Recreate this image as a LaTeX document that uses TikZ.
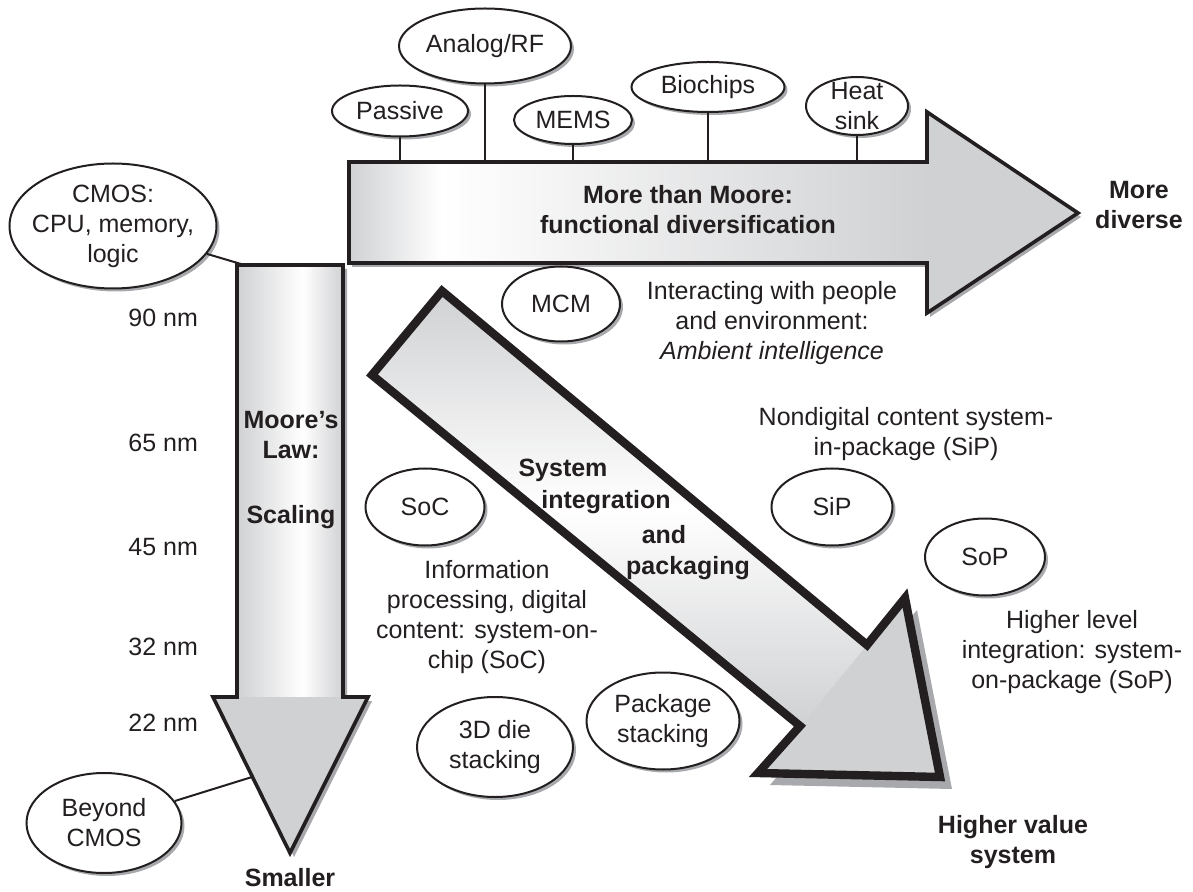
\documentclass[tikz,border=0pt]{standalone}
\usepackage{fontspec}
\setmainfont{Liberation Sans}
\usetikzlibrary{shapes.geometric,shadows}
\definecolor{ink}{RGB}{35,31,32}
\definecolor{arrowgray}{RGB}{208,209,211}
\definecolor{shadowgray}{RGB}{167,169,172}
\pgfdeclarehorizontalshading{mooreshaft}{100bp}{color(0bp)=(arrowgray); color(25bp)=(arrowgray); color(56bp)=(white); color(75bp)=(arrowgray); color(100bp)=(arrowgray)}
\pgfdeclarehorizontalshading{moreshaft}{100bp}{color(0bp)=(arrowgray); color(25bp)=(arrowgray); color(33bp)=(white); color(75bp)=(arrowgray); color(100bp)=(arrowgray)}
\tikzset{
    every node/.style={font=\fontsize{12.5}{15}\selectfont, text=ink},
    blob/.style={ellipse, draw=ink, line width=1pt, fill=white, inner sep=-40pt, align=center,
        drop shadow={shadow xshift=1.5pt, shadow yshift=-1.5pt, fill=shadowgray, opacity=1}},
    txt/.style={align=center},
    bold/.style={align=center, font=\fontsize{12.5}{15}\selectfont\bfseries},
    stem/.style={draw=ink, line width=1pt},
    outline/.style={draw=ink, line width=1.8pt, line join=miter}
}

\begin{document}
\begin{tikzpicture}[x=0.5pt, y=-0.5pt]
    \useasboundingbox (0,0) rectangle (1193,892);

    % Moore's law arrow
    \fill[shadowgray] (241,269) -- (347,269) -- (347,701) -- (372,701) -- (294,857) -- (217,701) -- (241,701) -- cycle;
    \shade[shading=mooreshaft] (237,265) rectangle (343,697);
    \fill[arrowgray] (213,697) -- (368,697) -- (290,853) -- cycle;
    \draw[outline] (237,265) -- (343,265) -- (343,697) -- (368,697) -- (290,853) -- (213,697) -- (237,697) -- cycle;

    % More than Moore arrow
    \fill[shadowgray] (352,166) -- (930,166) -- (930,116) -- (1081,217) -- (930,317) -- (930,267) -- (352,267) -- cycle;
    \shade[shading=moreshaft] (349,162) rectangle (927,263);
    \fill[arrowgray] (927,112) -- (1078,213) -- (927,313) -- cycle;
    \draw[outline] (349,162) -- (927,162) -- (927,112) -- (1078,213) -- (927,313) -- (927,263) -- (349,263) -- cycle;

    % integration arrow
    \fill[shadowgray] (917,610) -- (952,789) -- (770,785) -- cycle;
    \shade[top color=arrowgray, bottom color=arrowgray, middle color=white] (442,291) -- (867,645) -- (800,726) -- (372,375) -- cycle;
    \fill[arrowgray] (867,645) -- (905,598) -- (940,777) -- (758,773) -- (800,726) -- cycle;
    \draw[draw=ink, line width=4.2pt, line join=miter] (442,291) -- (867,645) -- (905,598) -- (940,777) -- (758,773) -- (800,726) -- (372,375) -- cycle;

    \coordinate (mtop) at (0,162);
    \coordinate (cmosend) at (241,264);
    \coordinate (beyondend) at (252,777);

    % ellipses
    \node[blob, minimum width=103.5pt, minimum height=62.5pt] (cmos) at (113,226) {CMOS:\\CPU, memory,\\logic};
    \node[blob, minimum width=77.5pt, minimum height=50pt] (beyond) at (104,823) {Beyond\\CMOS};
    \node[blob, minimum width=68pt, minimum height=25.5pt] (passive) at (400,111) {Passive};
    \node[blob, minimum width=86pt, minimum height=37.5pt] (analog) at (485,46) {Analog/RF};
    \node[blob, minimum width=59pt, minimum height=24pt] (mems) at (573,120) {MEMS};
    \node[blob, minimum width=76.5pt, minimum height=25pt] (biochips) at (708,87) {Biochips};
    \node[blob, minimum width=51pt, minimum height=29pt] (heatsink) at (857,106) {Heat\\sink};
    \node[blob, minimum width=59pt, minimum height=37.5pt] (mcm) at (561,304) {MCM};
    \node[blob, minimum width=59.5pt, minimum height=38.5pt] (soc) at (425,507) {SoC};
    \node[blob, minimum width=60.5pt, minimum height=38.5pt] (sip) at (832,507) {SiP};
    \node[blob, minimum width=60pt, minimum height=38.5pt] (sop) at (985,557) {SoP};
    \node[blob, minimum width=78pt, minimum height=50pt] (diestack) at (495,747) {3D die\\stacking};
    \node[blob, minimum width=76.5pt, minimum height=48.5pt] (pkgstack) at (663,721) {Package\\stacking};

    \draw[stem] (passive) -- (passive |- mtop);
    \draw[stem] (analog) -- (analog |- mtop);
    \draw[stem] (mems) -- (mems |- mtop);
    \draw[stem] (biochips) -- (biochips |- mtop);
    \draw[stem] (heatsink) -- (heatsink |- mtop);
    \draw[stem] (cmos) -- (cmosend);
    \draw[stem] (beyond) -- (beyondend);

    % node sizes
    \node[anchor=east] (nm90) at (205,318) {90 nm};
    \node[anchor=east] (nm65) at (205,443) {65 nm};
    \node[anchor=east] (nm45) at (205,547) {45 nm};
    \node[anchor=east] (nm32) at (205,647) {32 nm};
    \node[anchor=east] (nm22) at (205,723) {22 nm};

    % labels
    \node[bold] (moorelaw) at (291,435) {Moore’s\\Law:};
    \node[bold] (scaling) at (291,517) {Scaling};
    \node[bold] (smaller) at (290,878) {Smaller};
    \node[bold] (morethan) at (688,210) {More than Moore:\\functional diversification};
    \node[bold] (diverse) at (1139,205) {More\\diverse};
    \node[txt] (ambient) at (772,323) {Interacting with people\\and environment:\\\textit{Ambient intelligence}};
    \node[bold] (sys1) at (563,470) {System};
    \node[bold] (sys2) at (606,502) {integration};
    \node[bold] (sys3) at (664,535) {and};
    \node[bold] (sys4) at (688,568) {packaging};
    \node[txt] (info) at (487,617) {Information\\processing, digital\\content: system-on-\\chip (SoC)};
    \node[txt] (nondigital) at (906,434) {Nondigital content system-\\in-package (SiP)};
    \node[txt] (higherlevel) at (1072,652) {Higher level\\integration: system-\\on-package (SoP)};
    \node[bold] (highervalue) at (1013,842) {Higher value\\system};
\end{tikzpicture}
\end{document}
